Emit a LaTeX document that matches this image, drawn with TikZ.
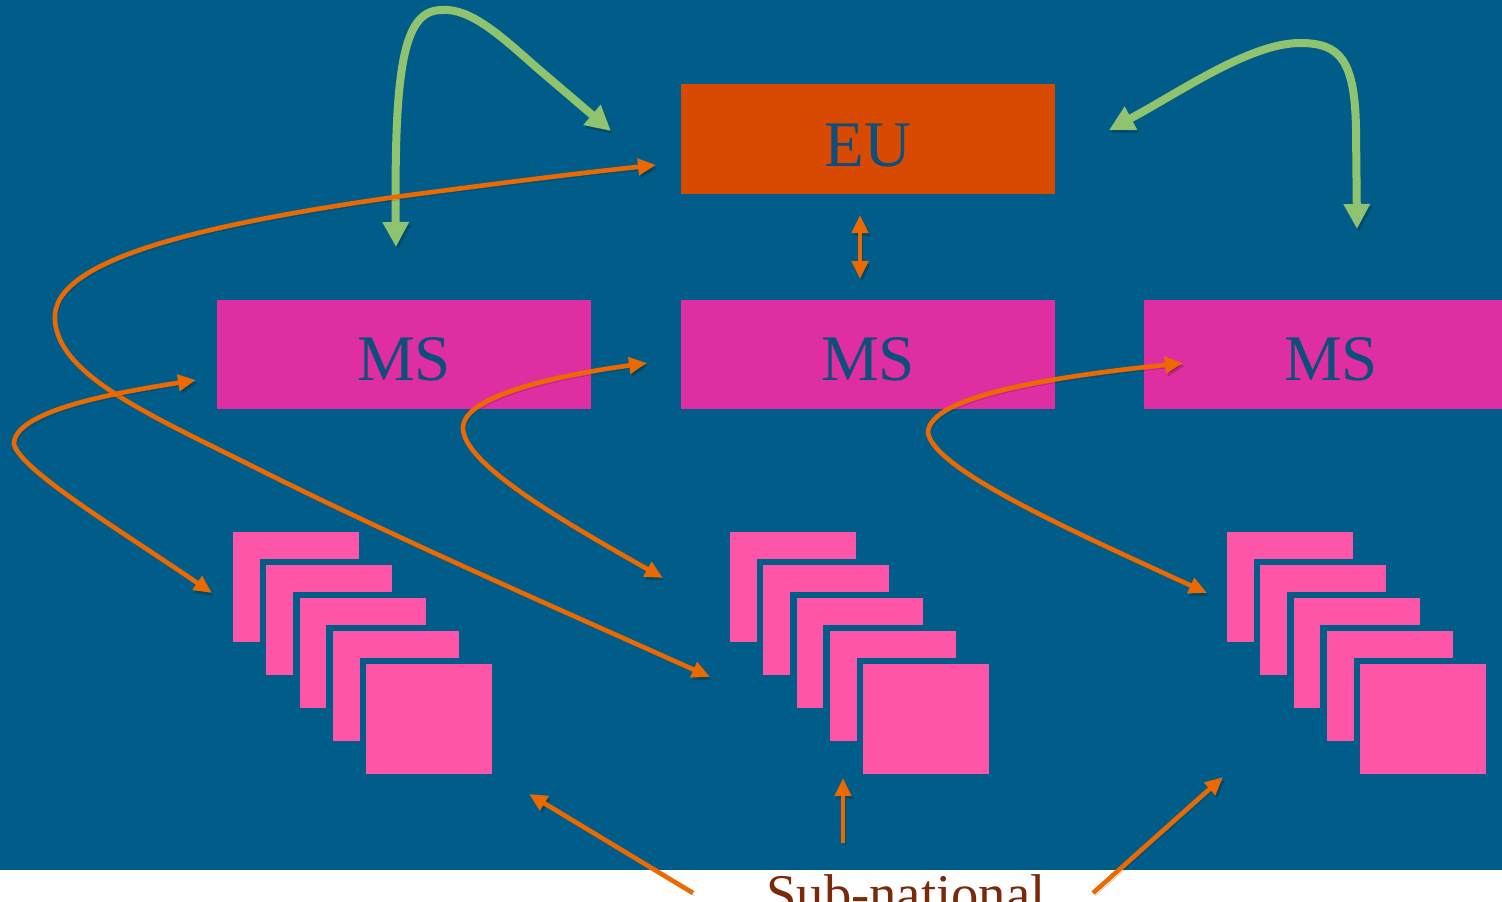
\documentclass[tikz,border=0pt]{standalone}
\usepackage{fontspec}
\setmainfont{Liberation Serif}
\usetikzlibrary{arrows.meta}
\definecolor{bg}{RGB}{0,93,137}
\definecolor{eucol}{RGB}{216,74,0}
\definecolor{mscol}{RGB}{223,46,161}
\definecolor{sqcol}{RGB}{255,85,168}
\definecolor{orng}{RGB}{236,105,0}
\definecolor{grn}{RGB}{143,195,112}
\definecolor{txtblue}{RGB}{12,78,124}
\definecolor{subcol}{RGB}{122,42,10}
\begin{document}
\begin{tikzpicture}[x=0.5pt,y=-0.5pt,
  box/.style={inner sep=0pt, outer sep=0pt, minimum width=187pt, text=txtblue,
    font=\fontsize{32.5}{39}\selectfont, text depth=0pt},
  eubox/.style={box, fill=eucol, minimum height=55pt, text height=27pt},
  msbox/.style={box, fill=mscol, minimum height=54.5pt, text height=26pt},
  sq/.style={fill=sqcol, draw=bg, line width=3.25pt, minimum width=66.25pt,
    minimum height=58.25pt, inner sep=0pt, outer sep=0pt},
  dropsh/.style={preaction={draw=black, opacity=0.18, transform canvas={shift={(2,3)}}}},
  oarrow/.style={draw=orng, line width=2.3pt,
    {Triangle[length=9pt,width=8pt]}-{Triangle[length=9pt,width=8pt]}, dropsh},
  oone/.style={draw=orng, line width=2.3pt, -{Triangle[length=9pt,width=8pt]}, dropsh},
  garrow/.style={draw=grn, line width=4pt,
    {Triangle[length=12.5pt,width=12.5pt]}-{Triangle[length=12.5pt,width=12.5pt]}, dropsh},
]
\useasboundingbox (0,0) rectangle (1502,901);
\clip (0,0) rectangle (1502,901);
\fill[white] (0,0) rectangle (1502,901);
\fill[bg] (0,0) rectangle (1502,870);

% boxes
\node[eubox] (eu) at (868,139) {EU};
\node[msbox] (ms1) at (404,354.5) {MS};
\node[msbox] (ms2) at (868,354.5) {MS};
\node[msbox] (ms3) at (1331,354.5) {MS};

% sub-national stacks
\foreach \s/\x in {1/233,2/730,3/1227}{
  \foreach \k in {0,...,4}{
    \node[sq] (sq\s-\k) at ({\x+33.25*\k+63},{532+33*\k+55}) {};
  }
}

\node[anchor=base, text=subcol, font=\fontsize{27.3}{32}\selectfont, inner sep=0pt] (sub) at (906,912) {Sub-national};

% end points
\coordinate (g1a) at (396,247);
\coordinate (g1b) at (611,131);
\coordinate (g2a) at (1109,130);
\coordinate (g2b) at (1357,229);
\coordinate (eul) at (656,165);
\coordinate (bigend) at (710,677);
\coordinate (m1in) at (196,380);
\coordinate (s1in) at (212,593);
\coordinate (m2in) at (647,363);
\coordinate (s2in) at (663,578);
\coordinate (m3in) at (1183,363);
\coordinate (s3in) at (1207,593);
\coordinate (eub) at (860,215);
\coordinate (mst) at (860,279);
\coordinate (subl) at (693,893);
\coordinate (subm) at (843,843);
\coordinate (subr) at (1093,893);
\coordinate (t1) at (529,794);
\coordinate (t2) at (843,778);
\coordinate (t3) at (1223,777);

% green arrows
\draw[garrow] (g1a) .. controls (394,60) and (405,10) .. (442,10)
  .. controls (470,8) and (500,35) .. (536,67) -- (g1b);
\draw[garrow] (g2a) .. controls (1180,92) and (1250,43) .. (1300,43)
  .. controls (1340,43) and (1355,60) .. (1356,130) -- (g2b);

% orange arrows
\draw[oarrow] (eul) .. controls (580,173) and (500,183) .. (395,197)
  .. controls (200,225) and (50,260) .. (55,320)
  .. controls (58,375) and (150,415) .. (250,465)
  .. controls (400,540) and (550,605) .. (bigend);
\draw[oarrow] (m1in) .. controls (120,392) and (14,410) .. (14,444)
  .. controls (20,470) and (120,530) .. (s1in);
\draw[oarrow] (m2in) .. controls (560,375) and (463,395) .. (463,428)
  .. controls (463,465) and (570,525) .. (s2in);
\draw[oarrow] (m3in) .. controls (1060,376) and (928,395) .. (928,433)
  .. controls (935,470) and (1070,530) .. (s3in);
\draw[oarrow] (eub) -- (mst);
\draw[oone] (subl) -- (t1);
\draw[oone] (subm) -- (t2);
\draw[oone] (subr) -- (t3);
\end{tikzpicture}
\end{document}
